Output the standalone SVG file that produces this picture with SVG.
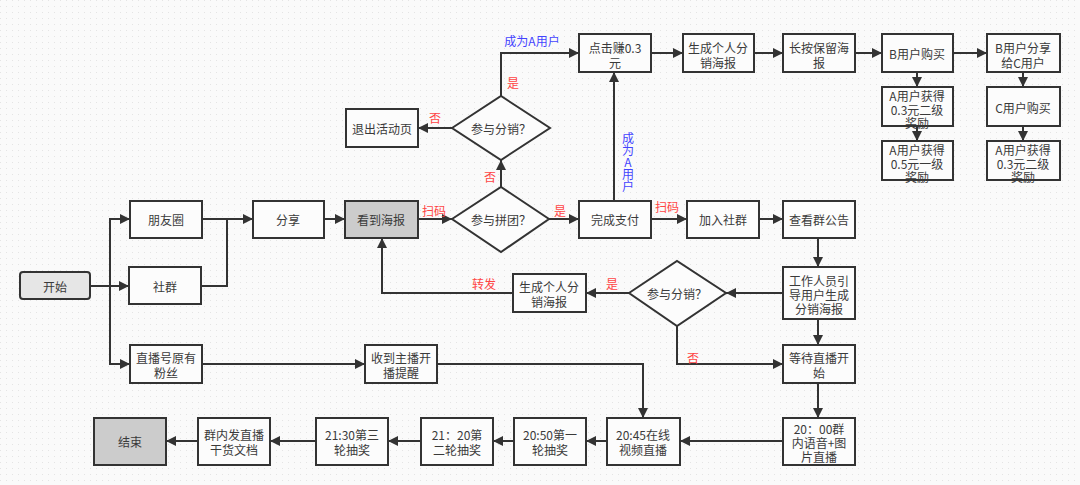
<svg xmlns="http://www.w3.org/2000/svg" width="1080" height="485" viewBox="0 0 1080 485">
<defs>
<pattern id="dots" width="6" height="6" patternUnits="userSpaceOnUse"><rect width="6" height="6" fill="#fafafa"/><rect x="0" y="0" width="1" height="1" fill="#e4e4e4"/></pattern>
<marker id="ah" viewBox="0 0 10 10" refX="10" refY="5" markerWidth="10" markerHeight="10" markerUnits="userSpaceOnUse" orient="auto"><path d="M0,0 L10,5 L0,10 z" fill="#333"/></marker>
<style>
.n rect{fill:#fcfcfc;stroke:#333;stroke-width:2}
.n polygon{fill:#fcfcfc;stroke:#333;stroke-width:2}
.g rect{fill:#cccccc}
.t{font-family:"Noto Sans CJK SC","Microsoft YaHei",sans-serif;font-size:12px;fill:#3a3a3a;text-anchor:middle;dominant-baseline:central}
.c path{fill:none;stroke:#333;stroke-width:2;marker-end:url(#ah)}
.c path.nm{marker-end:none}
.r{font-family:"Noto Sans CJK SC",sans-serif;font-size:12px;fill:#ff4444;text-anchor:middle;dominant-baseline:central}
.b{font-family:"Noto Sans CJK SC",sans-serif;font-size:12px;fill:#4444ff;text-anchor:middle;dominant-baseline:central}
.v{writing-mode:vertical-rl;text-orientation:upright}
</style>
</defs>
<rect width="1080" height="485" fill="url(#dots)"/>
<g id="connectors" class="c">
<path d="M90,286 H129"/>
<path d="M110,286 V219 H130"/>
<path d="M110,286 V364 H130"/>
<path d="M202,219 H253"/>
<path d="M201,286 H227 V219 H253" class="nm"/>
<path d="M324,219 H345"/>
<path d="M418,219 H452"/>
<path d="M549,219 H579"/>
<path d="M501,187 V160"/>
<path d="M452,128 H418"/>
<path d="M501,96 V53 H579"/>
<path d="M614,201 V72"/>
<path d="M651,53 H683"/>
<path d="M754,53 H783"/>
<path d="M855,53 H882"/>
<path d="M953,53 H987"/>
<path d="M917,72 V87"/>
<path d="M917,126 V141"/>
<path d="M1023,72 V87"/>
<path d="M1023,126 V141"/>
<path d="M651,219 H687"/>
<path d="M759,219 H783"/>
<path d="M818,238 V267"/>
<path d="M783,293 H726"/>
<path d="M629,293 H586"/>
<path d="M513,293 H382 V238"/>
<path d="M677,326 V364 H783"/>
<path d="M818,319 V345"/>
<path d="M818,383 V418"/>
<path d="M783,441 H680"/>
<path d="M607,441 H586"/>
<path d="M514,441 H493"/>
<path d="M421,441 H388"/>
<path d="M316,441 H270"/>
<path d="M198,441 H166"/>
<path d="M202,364 H365"/>
<path d="M437,364 H643 V418"/>
</g>
<g id="labels">
<text class="r" x="434" y="210">扫码</text>
<text class="r" x="560" y="210">是</text>
<text class="r" x="490" y="176">否</text>
<text class="r" x="435" y="117">否</text>
<text class="r" x="513" y="82">是</text>
<text class="b" x="532" y="40">成为A用户</text>
<text class="b v" x="628" y="162">成为A用户</text>
<text class="r" x="667" y="206">扫码</text>
<text class="r" x="612" y="283">是</text>
<text class="r" x="484" y="283">转发</text>
<text class="r" x="693" y="357">否</text>
</g>
<g id="start" class="n"><rect x="20" y="272" width="70" height="27" rx="3" style="fill:#e6e6e6"/><text class="t" x="55" y="286">开始</text></g>
<g id="pyq" class="n"><rect x="130" y="201" width="72" height="37"/><text class="t" x="166" y="219">朋友圈</text></g>
<g id="sq" class="n"><rect x="129" y="267" width="72" height="37"/><text class="t" x="165" y="286">社群</text></g>
<g id="fx" class="n"><rect x="253" y="201" width="71" height="37"/><text class="t" x="288" y="219">分享</text></g>
<g id="kdhb" class="n g"><rect x="345" y="201" width="73" height="37"/><text class="t" x="381" y="219">看到海报</text></g>
<g id="ptd" class="n"><polygon points="452,219 501,187 549,219 501,252"/><text class="t" x="501" y="219">参与拼团？</text></g>
<g id="fxd1" class="n"><polygon points="452,128 501,96 550,128 501,160"/><text class="t" x="501" y="128">参与分销？</text></g>
<g id="tc" class="n"><rect x="346" y="109" width="72" height="38"/><text class="t" x="382" y="128">退出活动页</text></g>
<g id="djz" class="n"><rect x="579" y="34" width="72" height="38"/><text class="t" x="615" y="47">点击赚0.3<tspan x="615" dy="15">元</tspan></text></g>
<g id="scgr1" class="n"><rect x="683" y="34" width="71" height="38"/><text class="t" x="718" y="47">生成个人分<tspan x="718" dy="15">销海报</tspan></text></g>
<g id="ca" class="n"><rect x="783" y="34" width="72" height="38"/><text class="t" x="819" y="47">长按保留海<tspan x="819" dy="15">报</tspan></text></g>
<g id="bgm" class="n"><rect x="882" y="34" width="71" height="38"/><text class="t" x="917" y="53">B用户购买</text></g>
<g id="bfx" class="n"><rect x="987" y="34" width="73" height="38"/><text class="t" x="1023" y="47">B用户分享<tspan x="1023" dy="15">给C用户</tspan></text></g>
<g id="a03" class="n"><rect x="882" y="87" width="71" height="39"/><text class="t" x="917" y="95">A用户获得<tspan x="917" dy="13.5">0.3元二级</tspan><tspan x="917" dy="13.5">奖励</tspan></text></g>
<g id="a05" class="n"><rect x="882" y="141" width="71" height="39"/><text class="t" x="917" y="149">A用户获得<tspan x="917" dy="13.5">0.5元一级</tspan><tspan x="917" dy="13.5">奖励</tspan></text></g>
<g id="cgm" class="n"><rect x="987" y="87" width="73" height="39"/><text class="t" x="1023" y="107">C用户购买</text></g>
<g id="a03r" class="n"><rect x="987" y="141" width="73" height="39"/><text class="t" x="1023" y="149">A用户获得<tspan x="1023" dy="13.5">0.3元二级</tspan><tspan x="1023" dy="13.5">奖励</tspan></text></g>
<g id="wczf" class="n"><rect x="579" y="201" width="72" height="37"/><text class="t" x="615" y="219">完成支付</text></g>
<g id="jrsq" class="n"><rect x="687" y="201" width="72" height="37"/><text class="t" x="723" y="219">加入社群</text></g>
<g id="ckgg" class="n"><rect x="783" y="201" width="72" height="37"/><text class="t" x="819" y="219">查看群公告</text></g>
<g id="gzry" class="n"><rect x="783" y="267" width="72" height="52"/><text class="t" x="819" y="280">工作人员引<tspan x="819" dy="14">导用户生成</tspan><tspan x="819" dy="14">分销海报</tspan></text></g>
<g id="fxd2" class="n"><polygon points="629,293 677,261 726,293 677,326"/><text class="t" x="677" y="293">参与分销？</text></g>
<g id="scgr2" class="n"><rect x="513" y="274" width="73" height="38"/><text class="t" x="549" y="286">生成个人分<tspan x="549" dy="15">销海报</tspan></text></g>
<g id="ddzb" class="n"><rect x="783" y="345" width="72" height="38"/><text class="t" x="819" y="357">等待直播开<tspan x="819" dy="15">始</tspan></text></g>
<g id="zbh" class="n"><rect x="130" y="345" width="72" height="38"/><text class="t" x="166" y="357">直播号原有<tspan x="166" dy="15">粉丝</tspan></text></g>
<g id="sdzb" class="n"><rect x="365" y="345" width="72" height="38"/><text class="t" x="401" y="357">收到主播开<tspan x="401" dy="15">播提醒</tspan></text></g>
<g id="t2000" class="n"><rect x="783" y="418" width="72" height="47"/><text class="t" x="819" y="428">20：00群<tspan x="819" dy="14">内语音+图</tspan><tspan x="819" dy="14">片直播</tspan></text></g>
<g id="t2045" class="n"><rect x="607" y="418" width="73" height="47"/><text class="t" x="643" y="434">20:45在线<tspan x="643" dy="15">视频直播</tspan></text></g>
<g id="t2050" class="n"><rect x="514" y="418" width="72" height="47"/><text class="t" x="550" y="434">20:50第一<tspan x="550" dy="15">轮抽奖</tspan></text></g>
<g id="t2120" class="n"><rect x="421" y="418" width="72" height="47"/><text class="t" x="457" y="434">21：20第<tspan x="457" dy="15">二轮抽奖</tspan></text></g>
<g id="t2130" class="n"><rect x="316" y="418" width="72" height="47"/><text class="t" x="352" y="434">21:30第三<tspan x="352" dy="15">轮抽奖</tspan></text></g>
<g id="qnf" class="n"><rect x="198" y="418" width="72" height="47"/><text class="t" x="234" y="434">群内发直播<tspan x="234" dy="15">干货文档</tspan></text></g>
<g id="end" class="n g"><rect x="94" y="418" width="72" height="47"/><text class="t" x="130" y="441">结束</text></g>
</svg>
